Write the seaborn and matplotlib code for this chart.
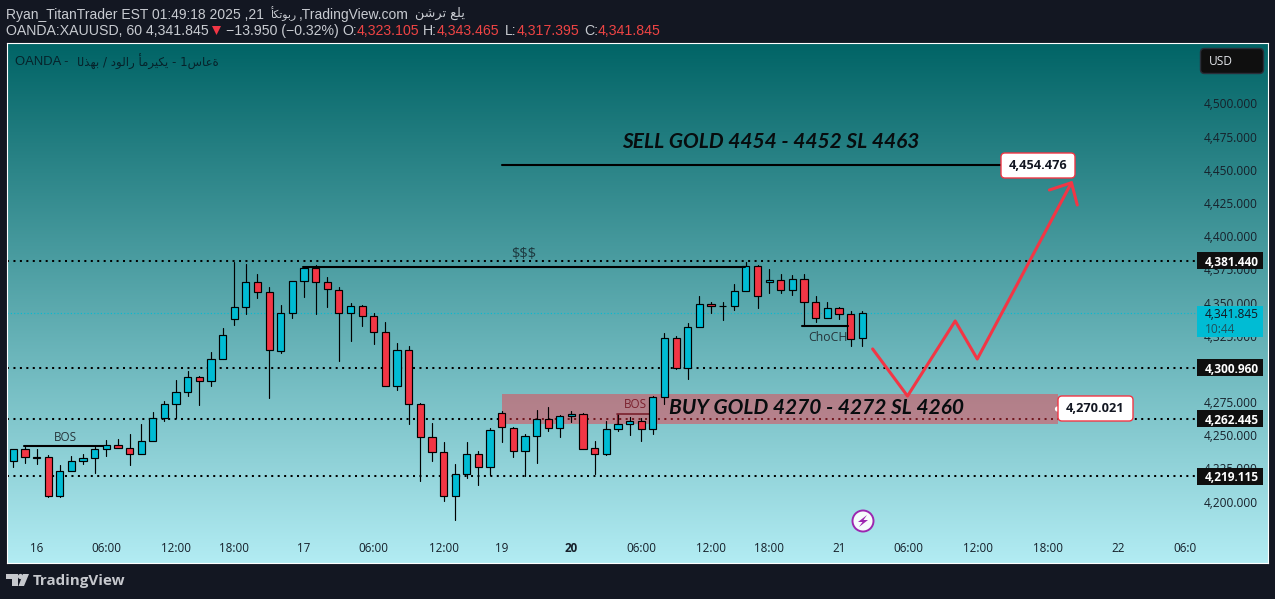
import numpy as np
import pandas as pd
import matplotlib
matplotlib.use('Agg')
import matplotlib.pyplot as plt
import seaborn as sns
from matplotlib.colors import LinearSegmentedColormap
from matplotlib.patches import Rectangle, FancyBboxPatch, Circle, Polygon
from matplotlib.transforms import IdentityTransform

# Hourly XAUUSD candles
opens = [4230.3, 4239.3, 4233.3, 4233.3, 4204.4, 4222.8, 4230.3, 4232.6, 4239.3, 4242.4,
         4240.1, 4235.6, 4245.4, 4262.7, 4273.3, 4282.3, 4293.6, 4290.6, 4307.2, 4337.3,
         4346.4, 4365.2, 4357.7, 4313.2, 4341.8, 4366.0, 4375.8, 4365.2, 4359.2, 4341.8,
         4347.1, 4339.6, 4327.5, 4286.8, 4314.0, 4273.3, 4248.4, 4237.1, 4204.4, 4220.5,
         4235.6, 4225.8, 4266.5, 4255.2, 4237.8, 4249.1, 4261.9, 4255.2, 4264.2, 4265.7,
         4240.1, 4235.6, 4254.4, 4258.2, 4260.4, 4254.4, 4278.5, 4323.0, 4300.4, 4331.3,
         4348.6, 4347.1, 4347.1, 4358.4, 4377.3, 4365.2, 4366.7, 4359.2, 4367.5, 4350.1,
         4338.1, 4345.6, 4341.1, 4323.105]
highs = [4239.3, 4241.3, 4239.3, 4234.8, 4227.3, 4234.3, 4235.6, 4241.3, 4246.1, 4246.9,
         4250.9, 4258.4, 4267.2, 4275.5, 4291.3, 4298.1, 4294.4, 4312.5, 4330.5, 4380.3,
         4379.0, 4371.5, 4361.4, 4347.9, 4366.0, 4375.8, 4378.0, 4369.0, 4361.4, 4349.4,
         4347.9, 4341.8, 4335.1, 4319.2, 4317.0, 4274.0, 4259.2, 4244.6, 4228.0, 4244.6,
         4237.8, 4255.2, 4268.0, 4255.9, 4250.6, 4268.7, 4271.0, 4265.0, 4268.0, 4266.5,
         4245.4, 4260.4, 4265.7, 4263.5, 4262.7, 4279.3, 4326.8, 4324.5, 4334.3, 4354.7,
         4350.1, 4350.1, 4363.7, 4380.5, 4378.5, 4375.0, 4371.2, 4370.5, 4371.2, 4354.7,
         4350.1, 4346.4, 4343.4, 4343.465]
lows = [4226.3, 4229.3, 4228.5, 4203.7, 4203.7, 4222.8, 4228.5, 4221.7, 4234.6, 4240.1,
        4227.8, 4235.6, 4245.4, 4260.9, 4262.7, 4279.8, 4273.0, 4287.3, 4307.2, 4333.3,
        4341.6, 4353.7, 4278.3, 4312.2, 4338.6, 4354.4, 4341.6, 4346.9, 4306.2, 4321.2,
        4332.6, 4319.0, 4286.8, 4283.8, 4258.7, 4215.7, 4230.8, 4200.6, 4186.3, 4218.0,
        4212.7, 4220.2, 4245.1, 4233.8, 4219.5, 4229.3, 4253.4, 4248.9, 4260.2, 4239.3,
        4221.0, 4234.8, 4252.9, 4250.4, 4245.9, 4251.1, 4273.3, 4299.6, 4292.6, 4331.3,
        4342.3, 4337.1, 4344.6, 4358.4, 4346.1, 4357.4, 4356.9, 4355.9, 4332.3, 4335.6,
        4338.1, 4337.3, 4317.5, 4317.395]
closes = [4239.3, 4233.3, 4233.0, 4204.4, 4222.8, 4230.3, 4232.6, 4239.3, 4242.4, 4240.1,
          4235.6, 4245.4, 4262.7, 4273.3, 4282.3, 4293.6, 4290.6, 4307.2, 4325.3, 4346.4,
          4365.2, 4357.7, 4314.0, 4341.8, 4366.0, 4375.8, 4365.2, 4359.9, 4341.8, 4347.1,
          4339.6, 4327.5, 4286.8, 4314.0, 4273.3, 4248.4, 4237.1, 4204.4, 4220.5, 4235.6,
          4225.8, 4253.7, 4255.9, 4237.8, 4249.1, 4261.9, 4255.2, 4264.2, 4265.7, 4239.3,
          4235.6, 4254.4, 4258.2, 4260.4, 4254.4, 4278.5, 4323.0, 4300.4, 4331.3, 4348.6,
          4347.1, 4347.4, 4358.4, 4377.3, 4354.7, 4366.7, 4359.2, 4367.5, 4350.1, 4338.1,
          4345.6, 4341.1, 4322.2, 4341.845]

# Axis labels
price_ticks = [4200, 4225, 4250, 4275, 4300, 4325, 4350, 4375, 4400, 4425, 4450, 4475, 4500]
time_pos = [2, 8, 14, 19, 25, 31, 37, 42, 48, 54, 60, 65, 71, 77, 83, 89, 95, 100.8]
time_labels = ['16', '06:00', '12:00', '18:00', '17', '06:00', '12:00', '19', '20', '06:00',
               '12:00', '18:00', '21', '06:00', '12:00', '18:00', '22', '06:0']

# Horizontal levels and drawings
levels = [4381.44, 4300.96, 4262.445, 4219.115]
last_price = 4341.845
sell_level = 4454.476
sell_line = 4453.6
buy_level = 4270.021
zone_low, zone_high = 4258.4, 4281.0
liquidity_level = 4376.8
bos1_level = 4242.1
bos2_level = 4266.2
choch_level = 4332.3
path_x = [73.9, 76.9, 81.0, 82.9, 91.0]
path_y = [4315.0, 4279.5, 4336.1, 4307.4, 4440.3]
head_x = [89.1, 91.0, 91.5]
head_y = [4434.8, 4440.3, 4423.5]

W, H = 1275, 599
BG = '#131722'
RED = '#f23645'
CYAN = '#00bcd4'
INK = '#131722'

sns.set_theme(style='white')
plt.rcParams['font.family'] = ['Liberation Sans', 'DejaVu Sans']
AXIS_FONT = ['Open Sans', 'DejaVu Sans']

fig = plt.figure(figsize=(W / 100, H / 100), dpi=100, facecolor=BG)
ax = fig.add_axes([7 / W, 1 - 563 / H, 1261 / W, 520 / H])

# x/y ranges so that one bar is 11.63 px and one dollar 1.3267 px
xlim = (-0.54, 107.9)
ylim = (4153.65, 4545.6)


def px(x, y):
    return x, H - y


# Background gradient
cmap = LinearSegmentedColormap.from_list('bg', ['#016466', '#b2ecf3'])
ax.imshow(np.linspace(0, 1, 256).reshape(-1, 1), cmap=cmap, aspect='auto',
          extent=(0, 1, 0, 1), transform=ax.transAxes, zorder=0)

# Dotted levels
for lv in levels:
    ax.plot([xlim[0], 102], [lv, lv], color='black', lw=1.45, ls=(0, (1, 2.2)), zorder=1)
ax.plot([xlim[0], 102], [last_price, last_price], color=CYAN, lw=0.8, ls=(0, (1, 2)), zorder=1)

# Buy zone sits under the candles
ax.fill_between([42.0, 89.8], zone_low, zone_high, color=RED, alpha=0.47, lw=0, zorder=1.5)

# Candles
bars = np.arange(len(opens))
opens_a, closes_a = np.array(opens), np.array(closes)
wicks = pd.DataFrame({'bar': np.tile(bars, 2), 'price': highs + lows})
sns.lineplot(data=wicks, x='bar', y='price', units='bar', estimator=None,
             color='black', lw=0.85, ax=ax, zorder=2)
colors = [CYAN if c >= o else RED for o, c in zip(opens, closes)]
ax.bar(bars, closes_a - opens_a, bottom=opens_a, width=0.62, color=colors,
       edgecolor='black', linewidth=0.85, zorder=2.2)

# Drawn lines
ax.plot([42, 85], [sell_line, sell_line], color='black', lw=1.5, zorder=3)
ax.plot([24.9, 62.9], [liquidity_level, liquidity_level], color='black', lw=1.5, zorder=3)
ax.plot([0.9, 7.7], [bos1_level, bos1_level], color='black', lw=1.5, zorder=3)
ax.plot([51.9, 54.7], [bos2_level, bos2_level], color='#7a1f2c', lw=1.2, zorder=2.1)
ax.plot([51.9, 51.9], [bos2_level, zone_low], color='#7a1f2c', lw=0.9, zorder=2.1)
ax.plot([67.8, 71.8], [choch_level, choch_level], color='black', lw=1.5, zorder=3)

# Projected path
sns.lineplot(x=path_x, y=path_y, sort=False, estimator=None, color=RED, lw=2.2, ax=ax, zorder=3.2)
sns.lineplot(x=head_x, y=head_y, sort=False, estimator=None, color=RED, lw=2.2, ax=ax, zorder=3.2)

ax.set_xlim(xlim)
ax.set_ylim(ylim)
ax.set_xlabel('')
ax.set_ylabel('')
ax.set_axisbelow(False)

# Ticks sit inside the pane
ax.yaxis.tick_right()
ax.set_yticks(price_ticks)
ax.set_yticklabels([f'{p:,.3f}' for p in price_ticks], ha='right')
ax.tick_params(axis='y', length=0, pad=-7.4, labelsize=8.6, labelcolor='#16202a')
ax.set_xticks(time_pos)
ax.set_xticklabels(time_labels)
ax.tick_params(axis='x', length=0, pad=-15.2, labelsize=8.4, labelcolor='#16202a')
for lab in ax.get_yticklabels() + ax.get_xticklabels():
    lab.set_fontfamily(AXIS_FONT)
for lab in ax.get_xticklabels():
    if lab.get_text() == '20':
        lab.set_fontweight('bold')

for sp in ax.spines.values():
    sp.set_visible(True)
    sp.set_color('white')
    sp.set_linewidth(0.8)

# Price tags on the axis
tag_x = (1197 - 7) / 1261
tag_w = 66 / 1261
ytrans = ax.get_yaxis_transform()
for lv in levels:
    ax.add_patch(Rectangle((tag_x, lv - 6.4), tag_w, 12.8, transform=ytrans,
                           color='#0f0f0f', lw=0, zorder=5))
    ax.text(0.9929, lv, f'{lv:,.3f}', transform=ytrans, ha='right', va='center_baseline',
            fontsize=8.6, fontweight='bold', color='white', family=AXIS_FONT, zorder=6)
ax.add_patch(Rectangle((tag_x, last_price - 17.9), tag_w, 23.4, transform=ytrans,
                       color=CYAN, lw=0, zorder=5))
ax.text(0.9929, last_price, f'{last_price:,.3f}', transform=ytrans, ha='right',
        va='center_baseline', fontsize=8.6, color=INK, family=AXIS_FONT, zorder=6)
ax.text(tag_x + 8 / 1261, last_price - 10.8, '10:44', transform=ytrans, ha='left',
        va='center_baseline', fontsize=8.6, color='#1f4f5a', family=AXIS_FONT, zorder=6)

# Rounded tags, placed in pixels
id_tr = IdentityTransform()


def rounded(x0, y0, x1, y1, face, edge, rad=4, lw=1.0, z=5):
    xa, ya = px(x0, y1)
    p = FancyBboxPatch((xa, ya), x1 - x0, y1 - y0, boxstyle=f'round,pad=0,rounding_size={rad}',
                       facecolor=face, edgecolor=edge, lw=lw, transform=id_tr, zorder=z, clip_on=False)
    ax.add_patch(p)


rounded(1001, 153, 1075, 178, 'white', RED)
fig.text(1038 / W, 1 - 165.5 / H, f'{sell_level:,.3f}', ha='center', va='center',
         fontsize=9.2, fontweight='bold', color=INK, family=AXIS_FONT, zorder=6)
rounded(1058, 396, 1133, 421, 'white', RED)
fig.text(1095.5 / W, 1 - 408.5 / H, f'{buy_level:,.3f}', ha='center', va='center',
         fontsize=9.2, fontweight='bold', color=INK, family=AXIS_FONT, zorder=6)
dx, dy = px(1057.5, 409)
ax.add_patch(Circle((dx, dy), 2.6, facecolor='white', edgecolor='none', transform=id_tr, zorder=4.5, clip_on=False))
rounded(1200.5, 48.5, 1263.5, 73.5, '#0f0f0f', '#2a2e39', rad=4)
fig.text(1209 / W, 1 - 61.5 / H, 'USD', ha='left', va='center', fontsize=8.6,
         color='#e4e6ea', family=AXIS_FONT, zorder=6)

# Chart annotations
note_style = dict(transform=ax.transAxes, va='center', fontsize=15, style='italic', fontweight='bold',
                  color='#070c0e', family='Lato', zorder=6)
ax.text((771 - 7) / 1261, (563 - 142) / 520, 'SELL GOLD 4454 - 4452 SL 4463', ha='center', **note_style)
ax.text((669 - 7) / 1261, (563 - 408) / 520, 'BUY GOLD 4270 - 4272 SL 4260', ha='left', **note_style)
ax.text(43.9, 4386.0, '$$$', ha='center', va='center', fontsize=10.5, color='#1d3a40', family=AXIS_FONT, zorder=6)
ax.text(4.45, 4248.2, 'BOS', ha='center', va='center', fontsize=8.4, color='#26343a', family=AXIS_FONT, zorder=6)
ax.text(53.5, 4273.0, 'BOS', ha='center', va='center', fontsize=8.4, color='#7a1f2c', family=AXIS_FONT, zorder=6)
ax.text(70.1, 4323.6, 'ChoCH', ha='center', va='center', fontsize=8.8, color='#26343a', family=AXIS_FONT, zorder=6)

# Alert icon
cx, cy = px(863, 521)
ax.add_patch(Circle((cx, cy), 10.5, facecolor='#f7fbfc', edgecolor='#9c27b0', lw=1.4,
                    transform=id_tr, zorder=6, clip_on=False))
ax.add_patch(Polygon([(cx + 4, cy + 6), (cx - 5, cy - 1), (cx - 0.5, cy - 1), (cx - 4, cy - 6),
                      (cx + 5, cy + 1), (cx + 0.5, cy + 1)], closed=True, color='#9c27b0', lw=0,
                     transform=id_tr, zorder=7, clip_on=False))

# The screenshot shows Arabic words with their letters running left to right
oct_ar = '\ufe84\ufedc\ufe97\ufeee\ufe91\ufead'
posted_ar = '\ufee6\ufeb7\ufeae\ufe97 \ufeca\ufee0\ufef3'
gold_ar = '\ufe8e\ufedf\ufeac\ufeec\ufe91'
dollar_ar = '\ufea9\ufeee\ufedf\ufe8d\ufead'
us_ar = '\ufe84\ufee3\ufeae\ufef4\ufedc\ufef3'
hour_ar = '\ufeb1\ufe8e\ufecb\ufe93'

# Pane title
fig.text(15 / W, 1 - 62 / H, 'OANDA -', ha='left', va='center', fontsize=9.4, color='#06222a', zorder=6)
fig.text(77 / W, 1 - 62 / H, f'{gold_ar} / {dollar_ar} {us_ar} - 1{hour_ar}', ha='left', va='center',
         fontsize=8.5, color='#06222a', family='DejaVu Sans', zorder=6)

# Header lines
hdr = '#c8cbd1'
fig.text(6 / W, 1 - 14.5 / H, 'Ryan_TitanTrader EST 01:49:18 2025 ,21', ha='left', va='center',
         fontsize=10, color=hdr)
fig.text(270 / W, 1 - 13.5 / H, oct_ar, ha='left', va='center', fontsize=7.8, color=hdr, family='DejaVu Sans')
fig.text(299 / W, 1 - 14.5 / H, ',TradingView.com', ha='left', va='center', fontsize=10, color=hdr)
fig.text(415 / W, 1 - 13.5 / H, posted_ar, ha='left', va='center', fontsize=9.2, color=hdr, family='DejaVu Sans')
fig.text(6 / W, 1 - 31 / H, 'OANDA:XAUUSD, 60 4,341.845', ha='left', va='center', fontsize=10.2, color=hdr)
tx, ty = 216.5, H - 30.5
fig.add_artist(Polygon([(tx - 4.5, ty + 4.5), (tx + 4.5, ty + 4.5), (tx, ty - 4.5)], closed=True,
                       color=RED, lw=0, transform=id_tr))
fig.text(226 / W, 1 - 31 / H, '\u221213.950 (\u22120.32%)', ha='left', va='center', fontsize=10.2, color=hdr)
for x0, key, val in [(342, 'O:', '4,323.105'), (423, 'H:', '4,343.465'),
                     (505, 'L:', '4,317.395'), (584, 'C:', '4,341.845')]:
    t = fig.text(x0 / W, 1 - 31 / H, key, ha='left', va='center', fontsize=10.2, color=hdr)
    x1 = t.get_window_extent(fig.canvas.get_renderer()).x1
    fig.text(x1 / W, 1 - 31 / H, val, ha='left', va='center', fontsize=10.2, color='#ef4444')

# Footer logo
logo = '#c6c8cd'
for pts in [[(6, 574), (18, 574), (18, 586), (12, 586), (12, 579), (6, 579)],
            [(23, 574), (29, 574), (24, 586), (18.5, 586)]]:
    fig.add_artist(Polygon([px(*p) for p in pts], closed=True, color=logo, lw=0, transform=id_tr))
lx, ly = px(20.5, 576.5)
fig.add_artist(Circle((lx, ly), 2.6, color=logo, lw=0, transform=id_tr))
fig.text(33 / W, 1 - 580.5 / H, 'TradingView', ha='left', va='center', fontsize=10.9, fontweight='bold',
         color=logo, family=['Open Sans', 'DejaVu Sans'])

fig.savefig('out.png', dpi=100, facecolor=BG)
plt.close(fig)
